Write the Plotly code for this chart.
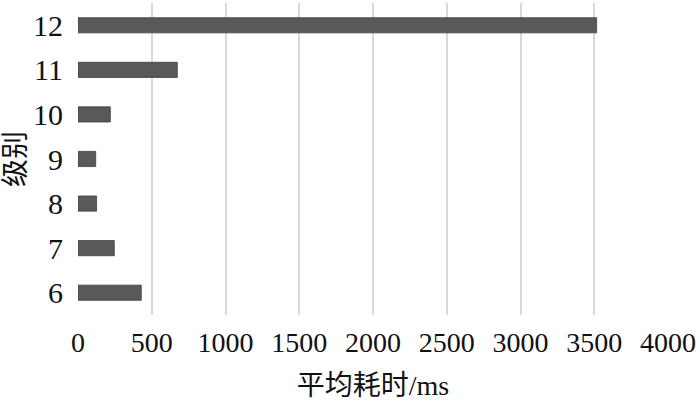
import plotly.graph_objects as go

# data
levels = ['6', '7', '8', '9', '10', '11', '12']
avg_ms = [429, 246, 126, 120, 219, 673, 3516]
x_ticks = [0, 500, 1000, 1500, 2000, 2500, 3000, 3500, 4000]

font_family = 'Liberation Serif, Times New Roman, Noto Sans CJK SC, serif'

fig = go.Figure()
fig.add_trace(go.Bar(
    x=avg_ms,
    y=levels,
    orientation='h',
    width=0.34,
    marker=dict(color='#595959', line=dict(color='#3f3f3f', width=0.8)),
))

fig.update_layout(
    width=700, height=404,
    margin={'l': 78, 'r': 32, 't': 3, 'b': 89, 'autoexpand': False},
    plot_bgcolor='white', paper_bgcolor='white',
    showlegend=False,
    font=dict(family=font_family, color='#111111', size=29),
    xaxis=dict(
        range=[0, 4000], tickvals=x_ticks, automargin=False,
        showgrid=True, gridcolor='#d9d9d9', gridwidth=2,
        zeroline=False, showline=False,
        ticks='outside', ticklen=2, tickcolor='rgba(0,0,0,0)',
        tickfont=dict(size=28),
        title=dict(text='平均耗时/ms', font=dict(size=28), standoff=18),
    ),
    yaxis=dict(
        type='category', range=[-0.5, 6.5], automargin=False,
        showgrid=False, zeroline=False, showline=False,
        ticks='outside', ticklen=8, tickcolor='rgba(0,0,0,0)',
        tickfont=dict(size=30),
        title=dict(text='级别', font=dict(size=28), standoff=0),
    ),
)

# drop the browser's default 8px page margin so the figure fills the window
fig.write_html("out.html", config={'displayModeBar': False},
               post_script="document.body.style.margin='0';")
